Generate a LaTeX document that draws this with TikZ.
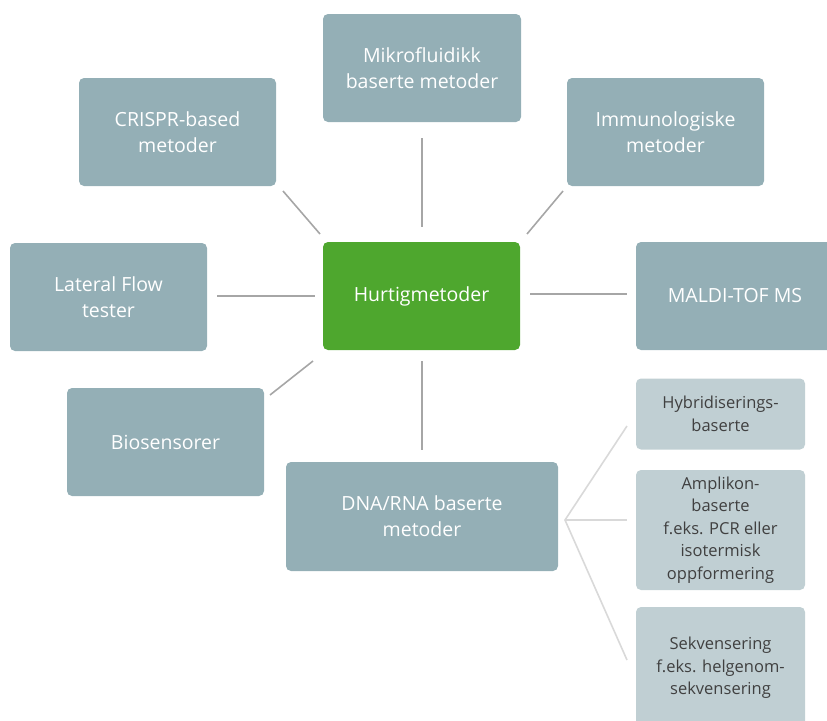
\documentclass[tikz,border=0pt]{standalone}
\usepackage{fontspec}
\setmainfont{Open Sans}
\begin{document}
\begin{tikzpicture}[x=1pt,y=-1pt,
  mainbox/.style={rectangle, rounded corners=5pt, fill=slate, text=white, minimum width=198pt, minimum height=108pt, align=center, font=\fontsize{19.5}{26}\selectfont, inner sep=0pt},
  subbox/.style={rectangle, rounded corners=5pt, fill=lightslate, text=subtext, minimum width=169pt, align=center, font=\fontsize{16.5}{22.5}\selectfont, inner sep=0pt},
  conn/.style={draw=conngray, line width=1.6pt},
  brk/.style={draw=brkgray, line width=1.6pt}]
\definecolor{slate}{HTML}{94AFB6}
\definecolor{lightslate}{HTML}{C0CFD3}
\definecolor{subtext}{HTML}{404040}
\definecolor{hgreen}{HTML}{4EA72E}
\definecolor{conngray}{HTML}{A6A6A6}
\definecolor{brkgray}{HTML}{D9D9D9}
\useasboundingbox (0,0) rectangle (827,720);
\clip (0,0) rectangle (827,720);
\node[mainbox, fill=hgreen, minimum width=197pt] (hub) at (421.5,296) {Hurtigmetoder};
\node[mainbox] (mikro) at (422,68) {Mikrofluidikk\\baserte metoder};
\node[mainbox, minimum width=197pt] (crispr) at (177.5,132) {CRISPR-based\\metoder};
\node[mainbox, minimum width=197pt] (immuno) at (665.5,132) {Immunologiske\\metoder};
\node[mainbox, minimum width=197pt] (lateral) at (108.5,297) {Lateral Flow\\tester};
\node[mainbox] (maldi) at (735,296) {MALDI-TOF MS};
\node[mainbox, minimum width=197pt] (bio) at (165.5,442) {Biosensorer};
\node[mainbox, minimum width=272pt, minimum height=109pt] (dna) at (422,516.5) {DNA/RNA baserte\\metoder};
\node[subbox, minimum height=71pt] (hyb) at (720.5,414) {Hybridiserings-\\baserte};
\node[subbox, minimum height=120pt] (amp) at (720.5,530) {Amplikon-\\baserte\\f.eks. PCR eller\\isotermisk\\oppformering};
\node[subbox, minimum height=122pt] (sek) at (720.5,668) {Sekvensering\\f.eks. helgenom-\\sekvensering};
% connectors
\coordinate (c1a) at (283,191); \coordinate (c1b) at (320,234);
\draw[conn] (c1a) -- (c1b);
\coordinate (c2a) at (422,138); \coordinate (c2b) at (422,227);
\draw[conn] (c2a) -- (c2b);
\coordinate (c3a) at (563,191); \coordinate (c3b) at (527,234);
\draw[conn] (c3a) -- (c3b);
\coordinate (c4a) at (217,296); \coordinate (c4b) at (315,296);
\draw[conn] (c4a) -- (c4b);
\coordinate (c5a) at (530,294); \coordinate (c5b) at (627,294);
\draw[conn] (c5a) -- (c5b);
\coordinate (c6a) at (270,395); \coordinate (c6b) at (313,361);
\draw[conn] (c6a) -- (c6b);
\coordinate (c7a) at (422,361); \coordinate (c7b) at (422,450);
\draw[conn] (c7a) -- (c7b);
% bracket
\coordinate (v) at (565,520);
\coordinate (bt) at (627,426);
\coordinate (bm) at (627,520);
\coordinate (bb) at (627,660);
\draw[brk] (bt) -- (v) -- (bb);
\draw[brk] (v) -- (bm);
\end{tikzpicture}
\end{document}
